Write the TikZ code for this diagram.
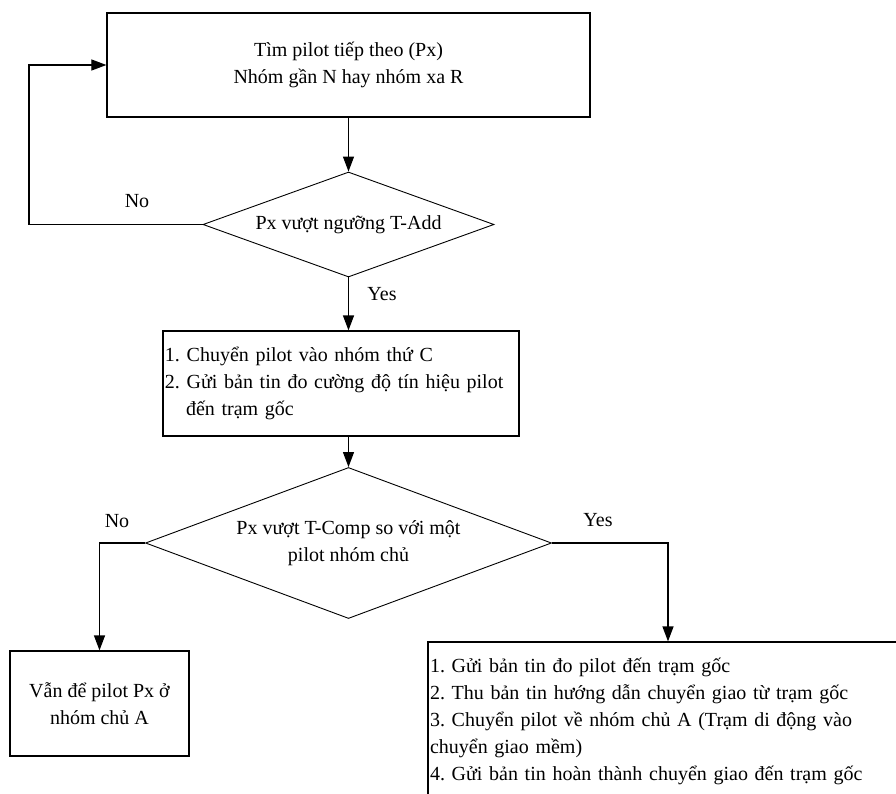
\documentclass[tikz,border=0pt]{standalone}
\usepackage{fontspec}
\setmainfont{Liberation Serif}
\usetikzlibrary{shapes.geometric,arrows.meta}
\frenchspacing
\newcommand\fsz{\fontsize{20bp}{27bp}\selectfont}
\tikzset{
  box/.style={draw=black, line width=1.2bp, inner xsep=2bp, inner ysep=0bp, font=\fsz},
  dia/.style={diamond, draw=black, line width=0.9bp, inner sep=0bp, font=\fsz, align=center},
  arr/.style={draw=black, line width=1.2bp, -{Triangle[length=15bp,width=11bp]}},
  lbl/.style={font=\fsz, inner sep=0bp}
}
\begin{document}
\begin{tikzpicture}[x=1bp,y=-1bp]
\useasboundingbox (0,0) rectangle (896,794);
\clip (0,0) rectangle (896,794);
\fill[white] (0,0) rectangle (896,794);

\node[box, minimum width=483bp, minimum height=104bp, align=center] (top) at (348.5,65)
  {Tìm pilot tiếp theo (Px)\\Nhóm gần N hay nhóm xa R};
\node[dia, minimum width=291bp, minimum height=105bp, aspect=2.77] (d1) at (348.5,224.5)
  {Px vượt ngưỡng T-Add};
\node[box, minimum width=356bp, minimum height=105bp, align=left, text width=352bp] (b2) at (341,383.5)
  {1. Chuyển pilot vào nhóm thứ C\\2. Gửi bản tin đo cường độ tín hiệu pilot\\\hspace*{21bp}đến trạm gốc};
\node[dia, minimum width=406bp, minimum height=151bp, aspect=2.69] (d2) at (348.5,543)
  {Px vượt T-Comp so với một\\pilot nhóm chủ};
\node[box, minimum width=179bp, minimum height=105bp, align=center] (bA) at (99.5,703.5)
  {Vẫn để pilot Px ở\\nhóm chủ A};
\node[box, minimum width=480bp, minimum height=158bp, align=left, text width=476bp] (b3) at (668,721)
  {1. Gửi bản tin đo pilot đến trạm gốc\\2. Thu bản tin hướng dẫn chuyển giao từ trạm gốc\\3. Chuyển pilot về nhóm chủ A (Trạm di động vào\\chuyển giao mềm)\\4. Gửi bản tin hoàn thành chuyển giao đến trạm gốc};

\coordinate (lp) at (29,65);

\draw[arr] (top.south) -- (d1.north);
\draw[arr] (d1.west) -| (lp) -- (top.west);
\draw[arr] (d1.south) -- (d1.south |- b2.north);
\draw[arr] (b2.south -| d2.north) -- (d2.north);
\draw[arr] (d2.west) -| (bA.north);
\draw[arr] (d2.east) -| (b3.north);

\node[lbl] (no1) at (137,201) {No};
\node[lbl] (yes1) at (382,294) {Yes};
\node[lbl] (no2) at (117,521) {No};
\node[lbl] (yes2) at (598,520) {Yes};
\end{tikzpicture}
\end{document}
